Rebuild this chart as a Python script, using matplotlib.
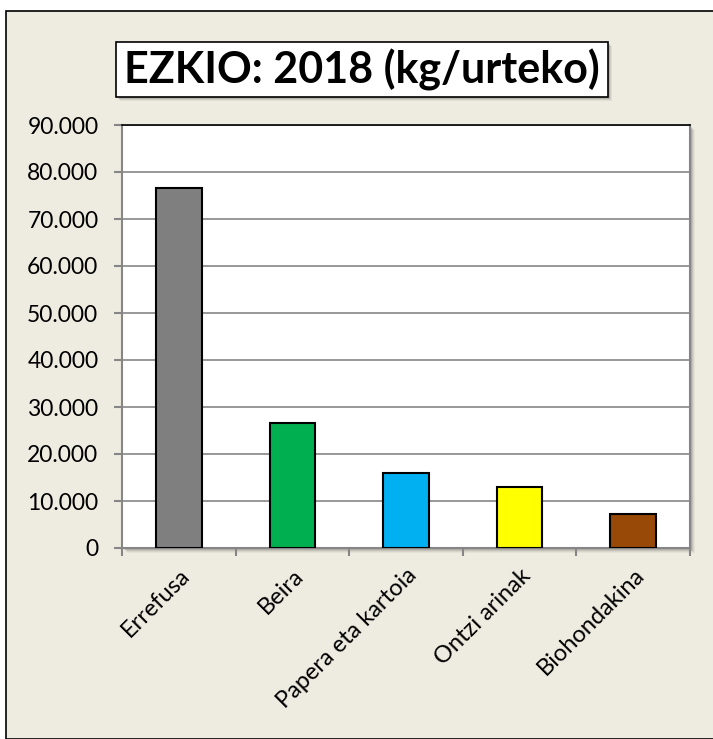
import matplotlib
matplotlib.use("Agg")
import matplotlib.pyplot as plt
from matplotlib.patches import Rectangle
from matplotlib.ticker import FuncFormatter, FixedLocator
import numpy as np

categories = ["Errefusa", "Beira", "Papera eta kartoia", "Ontzi arinak", "Biohondakina"]
values = [76500, 26600, 16000, 12900, 7200]
colors = ["#7F7F7F", "#00B050", "#00B0F0", "#FFFF00", "#984807"]
title = "EZKIO: 2018 (kg/urteko)"

plt.rcParams["font.family"] = ["Lato", "DejaVu Sans"]

W, H = 713, 739
fig = plt.figure(figsize=(W / 100, H / 100), dpi=100, facecolor="white")

# chart frame (beige area with black border)
frame = Rectangle((6 / W, 0), 1.0, 1 - 11 / H, transform=fig.transFigure,
                  facecolor="#EEEBE0", edgecolor="black", linewidth=1.2, zorder=0)
fig.patches.append(frame)

left, right, top, bottom = 122, 690, 125, 548
pos = [left / W, 1 - bottom / H, (right - left) / W, (bottom - top) / H]

# soft shadow behind plot area
for i, a in enumerate([0.10, 0.08, 0.06, 0.04]):
    off = i + 2
    sh = Rectangle(((left + off) / W, 1 - (bottom + off) / H), (right - left) / W, (bottom - top) / H,
                   transform=fig.transFigure, facecolor="black", alpha=a, edgecolor="none", zorder=0.5)
    fig.patches.append(sh)

ax = fig.add_axes(pos)
ax.set_zorder(5)
ax.set_facecolor("white")
x = np.arange(len(categories))
ax.bar(x, values, width=0.4, color=colors, edgecolor="black", linewidth=1.5, zorder=3)
ax.set_xlim(-0.5, len(categories) - 0.5)
ax.set_ylim(0, 90000)
ax.set_yticks(np.arange(0, 90001, 10000))
ax.yaxis.set_major_formatter(FuncFormatter(lambda v, p: f"{int(v):,}".replace(",", ".")))
ax.grid(axis="y", color="#868686", linewidth=1.2, zorder=0)
ax.set_axisbelow(True)

ax.xaxis.set_major_locator(FixedLocator(np.arange(-0.5, len(categories), 1.0)))
ax.set_xticklabels([])
ax.xaxis.set_minor_locator(FixedLocator(x))
ax.set_xticklabels(categories, minor=True, rotation=45, ha="right", rotation_mode="anchor", fontsize=17)
ax.tick_params(axis="x", which="minor", length=0, pad=12)
ax.tick_params(axis="x", which="major", length=6, width=1.5, color="#868686")
ax.tick_params(axis="y", length=6, width=1.5, color="#868686", labelsize=16.5, pad=11)

for s in ["left", "bottom", "right"]:
    ax.spines[s].set_color("#868686")
    ax.spines[s].set_linewidth(1.5)
ax.spines["top"].set_color("black")
ax.spines["top"].set_linewidth(1.2)

# title box with shadow
bx0, by0, bx1, by1 = 116, 42, 608, 97
for i, a in enumerate([0.12, 0.08, 0.05]):
    off = i + 2
    fig.patches.append(Rectangle(((bx0 + off) / W, 1 - (by1 + off) / H), (bx1 - bx0) / W, (by1 - by0) / H,
                                 transform=fig.transFigure, facecolor="black", alpha=a,
                                 edgecolor="none", zorder=1))
fig.patches.append(Rectangle((bx0 / W, 1 - by1 / H), (bx1 - bx0) / W, (by1 - by0) / H,
                             transform=fig.transFigure, facecolor="white", edgecolor="black",
                             linewidth=1.2, zorder=2))
fig.text((bx0 + bx1) / 2 / W, 1 - (by0 + by1) / 2 / H, title, ha="center", va="center",
         fontsize=31, fontweight="bold", zorder=3)

fig.savefig("out.png", dpi=100, facecolor=fig.get_facecolor())
